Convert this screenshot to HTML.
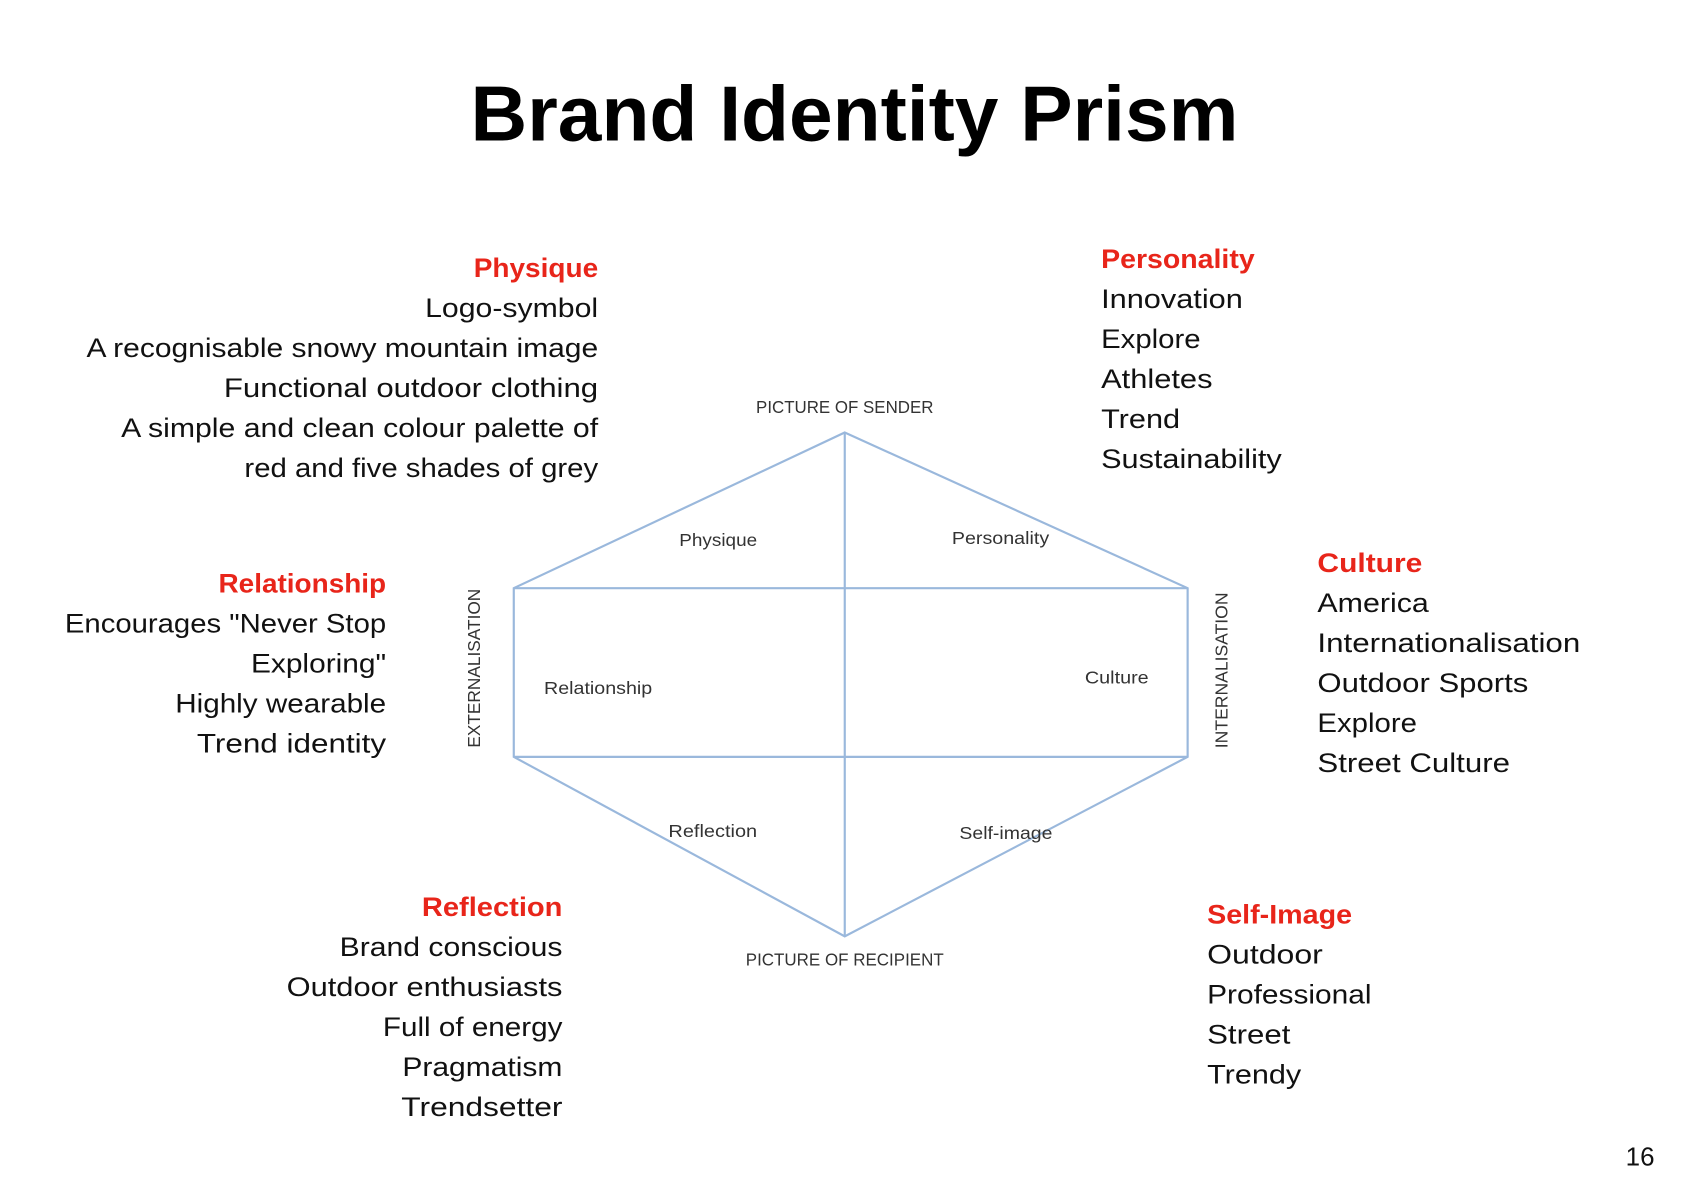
<!DOCTYPE html>
<html><head><meta charset="utf-8"><style>
html,body{margin:0;padding:0;background:#fff;}
svg{display:block}
text{font-family:"Liberation Sans",sans-serif;}
.h{fill:#e8251a;font-weight:bold;font-size:25px}
.t{fill:#111;font-size:25px}
.d{fill:#333;font-size:16px}
</style></head><body>
<svg width="1696" height="1198" viewBox="0 0 1568 1108" preserveAspectRatio="none">
<text x="790" y="130" text-anchor="middle" font-size="72" font-weight="bold" fill="#000" textLength="710" lengthAdjust="spacingAndGlyphs">Brand Identity Prism</text>

<g stroke="#9ab8dc" stroke-width="2" fill="none">
<polygon points="781,400 1098,544 1098,700 781,866 475,700 475,544"/>
<line x1="781" y1="400" x2="781" y2="866"/>
<line x1="475" y1="544" x2="1098" y2="544"/>
<line x1="475" y1="700" x2="1098" y2="700"/>
</g>
<g class="d">
<text class="d" x="781" y="382" text-anchor="middle" textLength="164" lengthAdjust="spacingAndGlyphs">PICTURE OF SENDER</text>
<text class="d" x="628" y="505" textLength="72" lengthAdjust="spacingAndGlyphs">Physique</text>
<text class="d" x="880" y="503" textLength="90" lengthAdjust="spacingAndGlyphs">Personality</text>
<text class="d" x="503" y="642" textLength="100" lengthAdjust="spacingAndGlyphs">Relationship</text>
<text class="d" x="1003" y="632" textLength="59" lengthAdjust="spacingAndGlyphs">Culture</text>
<text class="d" x="618" y="774" textLength="82" lengthAdjust="spacingAndGlyphs">Reflection</text>
<text class="d" x="887" y="776" textLength="86" lengthAdjust="spacingAndGlyphs">Self-image</text>
<text class="d" x="781" y="893" text-anchor="middle" textLength="183" lengthAdjust="spacingAndGlyphs">PICTURE OF RECIPIENT</text>
<text class="d" transform="translate(444,618) rotate(-90)" text-anchor="middle" textLength="147" lengthAdjust="spacingAndGlyphs">EXTERNALISATION</text>
<text class="d" transform="translate(1135,620) rotate(-90)" text-anchor="middle" textLength="144" lengthAdjust="spacingAndGlyphs">INTERNALISATION</text>
</g>

<g text-anchor="end">
<text class="h" x="553" y="256" textLength="115" lengthAdjust="spacingAndGlyphs">Physique</text>
<text class="t" x="553" y="293" textLength="160" lengthAdjust="spacingAndGlyphs">Logo-symbol</text>
<text class="t" x="553" y="330" textLength="473" lengthAdjust="spacingAndGlyphs">A recognisable snowy mountain image</text>
<text class="t" x="553" y="367" textLength="346" lengthAdjust="spacingAndGlyphs">Functional outdoor clothing</text>
<text class="t" x="553" y="404" textLength="441" lengthAdjust="spacingAndGlyphs">A simple and clean colour palette of</text>
<text class="t" x="553" y="441" textLength="327" lengthAdjust="spacingAndGlyphs">red and five shades of grey</text>

<text class="h" x="357" y="548" textLength="155" lengthAdjust="spacingAndGlyphs">Relationship</text>
<text class="t" x="357" y="585" textLength="297" lengthAdjust="spacingAndGlyphs">Encourages "Never Stop</text>
<text class="t" x="357" y="622" textLength="125" lengthAdjust="spacingAndGlyphs">Exploring"</text>
<text class="t" x="357" y="659" textLength="195" lengthAdjust="spacingAndGlyphs">Highly wearable</text>
<text class="t" x="357" y="696" textLength="175" lengthAdjust="spacingAndGlyphs">Trend identity</text>

<text class="h" x="520" y="847" textLength="130" lengthAdjust="spacingAndGlyphs">Reflection</text>
<text class="t" x="520" y="884" textLength="206" lengthAdjust="spacingAndGlyphs">Brand conscious</text>
<text class="t" x="520" y="921" textLength="255" lengthAdjust="spacingAndGlyphs">Outdoor enthusiasts</text>
<text class="t" x="520" y="958" textLength="166" lengthAdjust="spacingAndGlyphs">Full of energy</text>
<text class="t" x="520" y="995" textLength="148" lengthAdjust="spacingAndGlyphs">Pragmatism</text>
<text class="t" x="520" y="1032" textLength="149" lengthAdjust="spacingAndGlyphs">Trendsetter</text>
</g>

<g>
<text class="h" x="1018" y="248" textLength="142" lengthAdjust="spacingAndGlyphs">Personality</text>
<text class="t" x="1018" y="285" textLength="131" lengthAdjust="spacingAndGlyphs">Innovation</text>
<text class="t" x="1018" y="322" textLength="92" lengthAdjust="spacingAndGlyphs">Explore</text>
<text class="t" x="1018" y="359" textLength="103" lengthAdjust="spacingAndGlyphs">Athletes</text>
<text class="t" x="1018" y="396" textLength="73" lengthAdjust="spacingAndGlyphs">Trend</text>
<text class="t" x="1018" y="433" textLength="167" lengthAdjust="spacingAndGlyphs">Sustainability</text>

<text class="h" x="1218" y="529" textLength="97" lengthAdjust="spacingAndGlyphs">Culture</text>
<text class="t" x="1218" y="566" textLength="103" lengthAdjust="spacingAndGlyphs">America</text>
<text class="t" x="1218" y="603" textLength="243" lengthAdjust="spacingAndGlyphs">Internationalisation</text>
<text class="t" x="1218" y="640" textLength="195" lengthAdjust="spacingAndGlyphs">Outdoor Sports</text>
<text class="t" x="1218" y="677" textLength="92" lengthAdjust="spacingAndGlyphs">Explore</text>
<text class="t" x="1218" y="714" textLength="178" lengthAdjust="spacingAndGlyphs">Street Culture</text>

<text class="h" x="1116" y="854" textLength="134" lengthAdjust="spacingAndGlyphs">Self-Image</text>
<text class="t" x="1116" y="891" textLength="107" lengthAdjust="spacingAndGlyphs">Outdoor</text>
<text class="t" x="1116" y="928" textLength="152" lengthAdjust="spacingAndGlyphs">Professional</text>
<text class="t" x="1116" y="965" textLength="77" lengthAdjust="spacingAndGlyphs">Street</text>
<text class="t" x="1116" y="1002" textLength="87" lengthAdjust="spacingAndGlyphs">Trendy</text>
</g>

<text x="1503" y="1078" font-family="Liberation Serif,serif" font-size="24" fill="#111">16</text>
</svg>
</body></html>
